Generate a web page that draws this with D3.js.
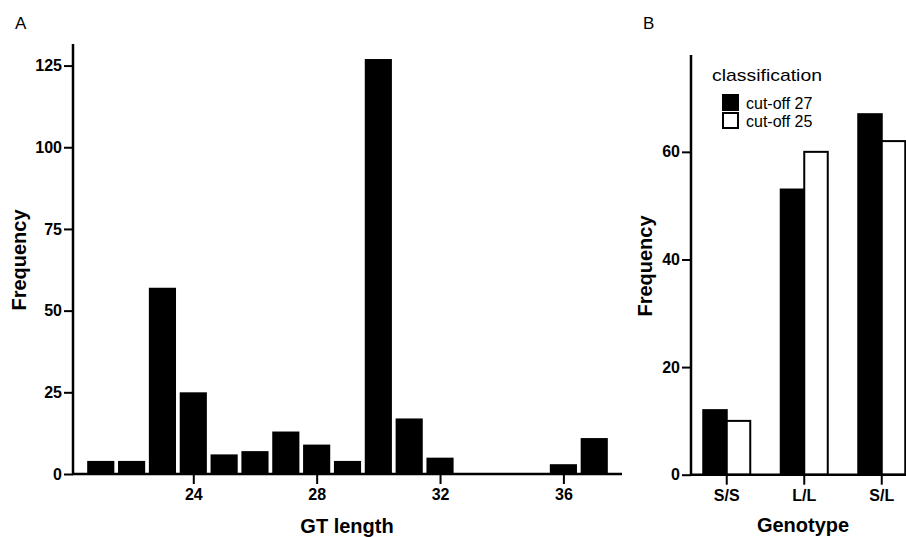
<!DOCTYPE html>
<html>
<head>
<meta charset="utf-8">
<script src="https://cdn.jsdelivr.net/npm/d3@7"></script>
<style>
  body { margin: 0; background: #fff; }
  svg { display: block; font-family: "Liberation Sans", Arial, sans-serif; }
</style>
</head>
<body>
<div id="vis"></div>
<script>
var w = 906,
    h = 537;

// panel A: GT length histogram
var gtLength = [21, 22, 23, 24, 25, 26, 27, 28, 29, 30, 31, 32, 33, 34, 35, 36, 37];
var gtFreq = [4, 4, 57, 25, 6, 7, 13, 9, 4, 127, 17, 5, 0, 0, 0, 3, 11];
var lengthTicks = [24, 28, 32, 36];
var freqTicksA = [0, 25, 50, 75, 100, 125];

// panel B: genotype by classification
var genotypes = ["S/S", "L/L", "S/L"];
var cutoff27 = [12, 53, 67];
var cutoff25 = [10, 60, 62];
var freqTicksB = [0, 20, 40, 60];
var legendLabels = ["cut-off 27", "cut-off 25"];

var svg = d3.select("#vis").append("svg")
    .attr("width", w)
    .attr("height", h);

var styleAxis = function(g) {
    g.select(".domain").remove();
    g.selectAll(".tick line").attr("stroke", "#000").attr("stroke-width", 2);
    g.selectAll(".tick text")
        .attr("fill", "#000")
        .style("font-size", "16px")
        .style("font-weight", "bold");
}

/* ---------- panel A ---------- */
var xA = d3.scaleLinear().domain([20.1, 37.9]).range([73, 622]);
var yA = d3.scaleLinear().domain([0, 131.6]).range([474, 44]);

svg.selectAll("rect.barA")
    .data(gtFreq)
    .enter().append("rect")
    .attr("class", "barA")
    .attr("x", function(d, i) { return xA(gtLength[i] - 0.44); })
    .attr("width", function(d, i) { return xA(gtLength[i] + 0.44) - xA(gtLength[i] - 0.44); })
    .attr("y", function(d) { return yA(d); })
    .attr("height", function(d) { return yA(0) - yA(d); })
    .attr("fill", "#000");

svg.append("g")
    .attr("transform", "translate(73,0)")
    .call(d3.axisLeft(yA).tickValues(freqTicksA).tickSize(9).tickPadding(2))
    .call(styleAxis);

svg.append("g")
    .attr("transform", "translate(0,474)")
    .call(d3.axisBottom(xA).tickValues(lengthTicks).tickSize(10).tickPadding(5))
    .call(styleAxis);

svg.append("line")
    .attr("x1", 73).attr("x2", 73)
    .attr("y1", yA.range()[1]).attr("y2", yA(0) + 1)
    .attr("stroke", "#000").attr("stroke-width", 2.5);
svg.append("line")
    .attr("x1", 72).attr("x2", xA.range()[1])
    .attr("y1", yA(0)).attr("y2", yA(0))
    .attr("stroke", "#000").attr("stroke-width", 2.5);

svg.append("text")
    .attr("x", 15).attr("y", 29)
    .style("font-size", "17px")
    .text("A");

svg.append("text")
    .attr("transform", "translate(26,260) rotate(-90)")
    .attr("text-anchor", "middle")
    .style("font-size", "20px").style("font-weight", "bold")
    .text("Frequency");

svg.append("text")
    .attr("x", 347).attr("y", 533)
    .attr("text-anchor", "middle")
    .style("font-size", "20px").style("font-weight", "bold")
    .text("GT length");

/* ---------- panel B ---------- */
var xB = d3.scaleBand().domain(genotypes).range([688, 920.5]);
var yB = d3.scaleLinear().domain([0, 78]).range([474.7, 55]);
var barW = 23.5;

var groups = svg.selectAll("g.geno")
    .data(genotypes)
    .enter().append("g")
    .attr("class", "geno");

groups.append("rect")
    .attr("x", function(d) { return xB(d) + xB.bandwidth() / 2 - barW; })
    .attr("width", barW)
    .attr("y", function(d, i) { return yB(cutoff27[i]); })
    .attr("height", function(d, i) { return yB(0) - yB(cutoff27[i]); })
    .attr("fill", "#000")
    .attr("stroke", "#000").attr("stroke-width", 2);

groups.append("rect")
    .attr("x", function(d) { return xB(d) + xB.bandwidth() / 2; })
    .attr("width", barW)
    .attr("y", function(d, i) { return yB(cutoff25[i]); })
    .attr("height", function(d, i) { return yB(0) - yB(cutoff25[i]); })
    .attr("fill", "#fff")
    .attr("stroke", "#000").attr("stroke-width", 2);

svg.append("g")
    .attr("transform", "translate(691,0)")
    .call(d3.axisLeft(yB).tickValues(freqTicksB).tickSize(9).tickPadding(2))
    .call(styleAxis);

svg.append("g")
    .attr("transform", "translate(0,474.7)")
    .call(d3.axisBottom(xB).tickSize(10).tickPadding(5))
    .call(styleAxis);

svg.append("line")
    .attr("x1", 691).attr("x2", 691)
    .attr("y1", yB.range()[1]).attr("y2", yB(0) + 1)
    .attr("stroke", "#000").attr("stroke-width", 2.5);
svg.append("line")
    .attr("x1", 690).attr("x2", 906)
    .attr("y1", yB(0)).attr("y2", yB(0))
    .attr("stroke", "#000").attr("stroke-width", 2.5);

svg.append("text")
    .attr("x", 643).attr("y", 29)
    .style("font-size", "17px")
    .text("B");

svg.append("text")
    .attr("transform", "translate(652,266) rotate(-90)")
    .attr("text-anchor", "middle")
    .style("font-size", "20px").style("font-weight", "bold")
    .text("Frequency");

svg.append("text")
    .attr("x", 803).attr("y", 532)
    .attr("text-anchor", "middle")
    .style("font-size", "20px").style("font-weight", "bold")
    .text("Genotype");

// legend
var legend = svg.append("g").attr("transform", "translate(712,0)");
legend.append("text")
    .attr("x", 0).attr("y", 81)
    .attr("textLength", 110).attr("lengthAdjust", "spacingAndGlyphs")
    .style("font-size", "17px")
    .text("classification");

var items = legend.selectAll("g.item")
    .data(legendLabels)
    .enter().append("g")
    .attr("class", "item")
    .attr("transform", function(d, i) { return "translate(0," + (95 + i * 18) + ")"; });

items.append("rect")
    .attr("x", 11).attr("y", 0)
    .attr("width", 15).attr("height", 15)
    .attr("fill", function(d, i) { return i == 0 ? "#000" : "#fff"; })
    .attr("stroke", "#000").attr("stroke-width", 2);

items.append("text")
    .attr("x", 34).attr("y", 14)
    .style("font-size", "16px")
    .text(function(d) { return d; });
</script>
</body>
</html>
